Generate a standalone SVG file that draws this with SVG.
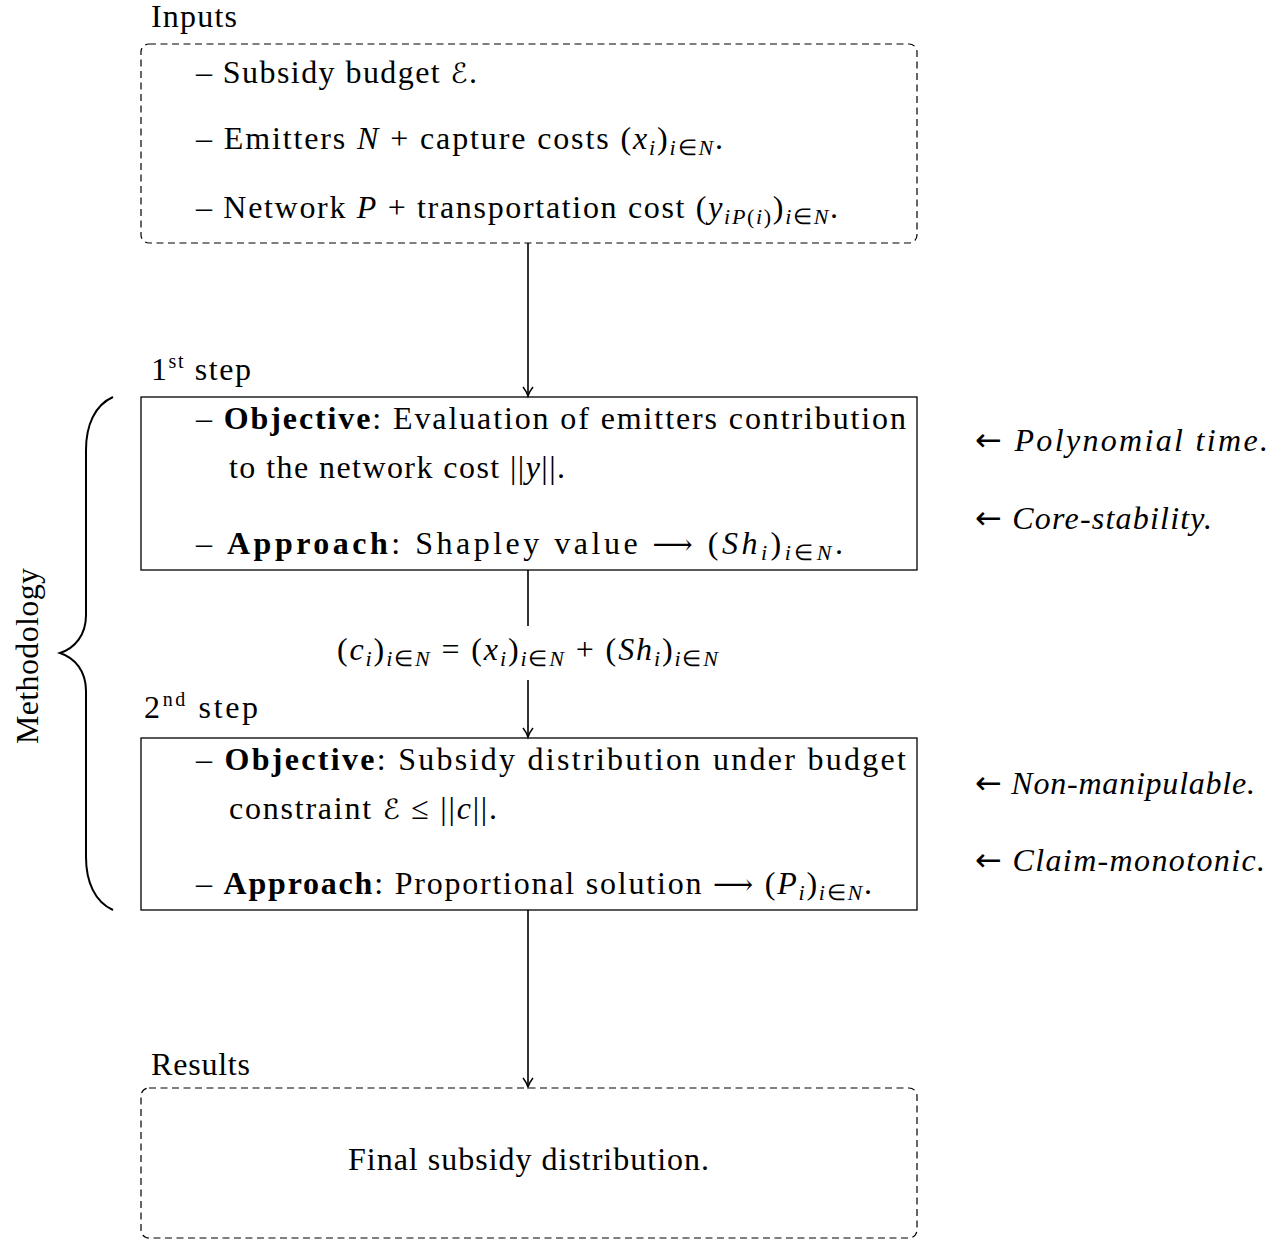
<svg xmlns="http://www.w3.org/2000/svg" width="1279" height="1241" viewBox="0 0 1279 1241">
<defs>
<style>
.t{font-family:"Liberation Serif","Times New Roman",serif;font-size:32px;fill:#000}
.i{font-style:italic}
.b{font-weight:bold}
.s{font-size:22px}
.sp{font-size:20px}
.sy{font-family:"DejaVu Serif","DejaVu Sans",serif;font-size:28px}
.ar{font-family:"DejaVu Sans",sans-serif;font-size:32px;font-style:normal}
.dash{fill:none;stroke:#000;stroke-width:1.2;stroke-dasharray:7 4.5}
.box{fill:none;stroke:#000;stroke-width:1.3}
.edge{fill:none;stroke:#000;stroke-width:1.6}
</style>
<marker id="ah" markerUnits="userSpaceOnUse" markerWidth="20" markerHeight="20" viewBox="-10 -10 20 20" refX="0" refY="0" orient="auto">
<path d="M-9,-5 C-5.5,-2.2 -2.2,-0.6 0,0 C-2.2,0.6 -5.5,2.2 -9,5" fill="none" stroke="#000" stroke-width="1.5"/>
</marker>
</defs>
<rect width="1279" height="1241" fill="#fff"/>

<g id="connectors">
<path class="edge" d="M528,243 L528,396" marker-end="url(#ah)"/>
<path class="edge" d="M528,570 L528,626"/>
<path class="edge" d="M528,680 L528,737" marker-end="url(#ah)"/>
<path class="edge" d="M528,910 L528,1087" marker-end="url(#ah)"/>
<text id="eq" class="t" x="337" y="660" textLength="381">(<tspan class="i">c</tspan><tspan class="s i" dy="6">i</tspan><tspan dy="-6">)</tspan><tspan class="s" dy="6"><tspan class="i">i</tspan>∈<tspan class="i">N</tspan></tspan><tspan dy="-6"> = (</tspan><tspan class="i">x</tspan><tspan class="s i" dy="6">i</tspan><tspan dy="-6">)</tspan><tspan class="s" dy="6"><tspan class="i">i</tspan>∈<tspan class="i">N</tspan></tspan><tspan dy="-6"> + (</tspan><tspan class="i">Sh</tspan><tspan class="s i" dy="6">i</tspan><tspan dy="-6">)</tspan><tspan class="s" dy="6"><tspan class="i">i</tspan>∈<tspan class="i">N</tspan></tspan></text>
</g>

<g id="inputs">
<text class="t" x="151" y="27" textLength="86">Inputs</text>
<rect class="dash" x="141" y="44" width="776" height="199" rx="8"/>
<text class="t" x="196" y="83" textLength="281">– Subsidy budget <tspan class="sy i">ℰ</tspan>.</text>
<text class="t" x="196" y="149" textLength="527">– Emitters <tspan class="i">N</tspan> + capture costs (<tspan class="i">x</tspan><tspan class="s i" dy="6">i</tspan><tspan dy="-6">)</tspan><tspan class="s" dy="6"><tspan class="i">i</tspan>∈<tspan class="i">N</tspan></tspan><tspan dy="-6">.</tspan></text>
<text class="t" x="196" y="218" textLength="642">– Network <tspan class="i">P</tspan> + transportation cost (<tspan class="i">y</tspan><tspan class="s" dy="6"><tspan class="i">iP</tspan>(<tspan class="i">i</tspan>)</tspan><tspan dy="-6">)</tspan><tspan class="s" dy="6"><tspan class="i">i</tspan>∈<tspan class="i">N</tspan></tspan><tspan dy="-6">.</tspan></text>
</g>

<g id="step1">
<text class="t" x="151" y="380" textLength="100">1<tspan class="sp" dy="-12">st</tspan><tspan dy="12"> step</tspan></text>
<rect class="box" x="141" y="397" width="776" height="173"/>
<text class="t" x="196" y="429" textLength="710">– <tspan class="b">Objective</tspan>:  Evaluation  of  emitters  contribution</text>
<text class="t" x="229" y="478" textLength="336">to the network cost ||<tspan class="i">y</tspan>||.</text>
<text class="t" x="196" y="554" textLength="647">– <tspan class="b">Approach</tspan>: Shapley value <tspan class="sy">⟶</tspan> (<tspan class="i">Sh</tspan><tspan class="s i" dy="6">i</tspan><tspan dy="-6">)</tspan><tspan class="s" dy="6"><tspan class="i">i</tspan>∈<tspan class="i">N</tspan></tspan><tspan dy="-6">.</tspan></text>
</g>

<g id="props1">
<text class="t" x="975" y="451" textLength="293"><tspan class="ar">←</tspan> <tspan class="i">Polynomial time.</tspan></text>
<text class="t" x="975" y="529" textLength="237"><tspan class="ar">←</tspan> <tspan class="i">Core-stability.</tspan></text>
</g>

<g id="step2">
<text class="t" x="144" y="718" textLength="114">2<tspan class="sp" dy="-12">nd</tspan><tspan dy="12"> step</tspan></text>
<rect class="box" x="141" y="738" width="776" height="172"/>
<text class="t" x="196" y="770" textLength="710">– <tspan class="b">Objective</tspan>:  Subsidy  distribution  under  budget</text>
<text class="t" x="229" y="819" textLength="268">constraint <tspan class="sy i">ℰ</tspan> ≤ ||<tspan class="i">c</tspan>||.</text>
<text class="t" x="196" y="894" textLength="676">– <tspan class="b">Approach</tspan>: Proportional solution <tspan class="sy">⟶</tspan> (<tspan class="i">P</tspan><tspan class="s i" dy="6">i</tspan><tspan dy="-6">)</tspan><tspan class="s" dy="6"><tspan class="i">i</tspan>∈<tspan class="i">N</tspan></tspan><tspan dy="-6">.</tspan></text>
</g>

<g id="props2">
<text class="t" x="975" y="794" textLength="280"><tspan class="ar">←</tspan> <tspan class="i">Non-manipulable.</tspan></text>
<text class="t" x="975" y="871" textLength="290"><tspan class="ar">←</tspan> <tspan class="i">Claim-monotonic.</tspan></text>
</g>

<g id="methodology">
<path d="M113,397 C95,405 86,425 86,450 L86,615 C86,635 75,648 60,653 C75,658 86,671 86,691 L86,857 C86,882 95,902 113,910" fill="none" stroke="#000" stroke-width="2"/>
<text class="t" x="0" y="0" transform="translate(38,656) rotate(-90)" text-anchor="middle" textLength="176">Methodology</text>
</g>

<g id="results">
<text class="t" x="151" y="1075" textLength="99">Results</text>
<rect class="dash" x="141" y="1088" width="776" height="150" rx="8"/>
<text class="t" x="348" y="1170" textLength="361">Final subsidy distribution.</text>
</g>
</svg>
